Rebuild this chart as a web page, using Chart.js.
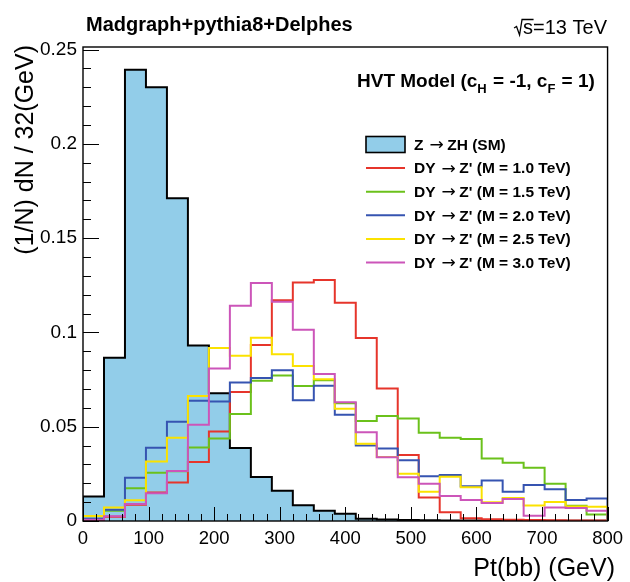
<!DOCTYPE html>
<html>
<head>
<meta charset="utf-8">
<script src="https://cdn.jsdelivr.net/npm/chart.js@4/dist/chart.umd.min.js"></script>
<style>
html,body{margin:0;padding:0;background:#fff;}
#wrap{width:630px;height:582px;position:relative;}
</style>
</head>
<body>
<div id="wrap"><canvas id="c" width="630" height="582"></canvas></div>
<script>
// ---- data (bin width 32 GeV, 25 bins from 0 to 800 GeV) ----
const binWidth = 32;
const binLow = [0,32,64,96,128,160,192,224,256,288,320,352,384,416,448,480,512,544,576,608,640,672,704,736,768];

const smZH  = [0.0130,0.0866,0.2394,0.2300,0.1712,0.0931,0.0677,0.0387,0.0234,0.0161,0.0083,0.0055,0.0039,0.0012,0.0008,0.0005,0.0004,0.0003,0.0002,0.0002,0.0001,0.0001,0.0001,0.0001,0.0001];
const dyM10 = [0.0005,0.0022,0.0086,0.0151,0.0204,0.0313,0.0475,0.0684,0.0934,0.1171,0.1265,0.1278,0.1157,0.0970,0.0703,0.0350,0.0125,0.0047,0.0014,0.0009,0.0006,0.0005,0.0004,0.0003,0.0003];
const dyM15 = [0.0012,0.0055,0.0174,0.0256,0.0264,0.0390,0.0438,0.0567,0.0744,0.0772,0.0716,0.0746,0.0624,0.0530,0.0557,0.0544,0.0468,0.0442,0.0435,0.0332,0.0309,0.0283,0.0198,0.0081,0.0035];
const dyM20 = [0.0012,0.0060,0.0230,0.0389,0.0526,0.0638,0.0634,0.0734,0.0758,0.0800,0.0640,0.0717,0.0564,0.0400,0.0385,0.0322,0.0237,0.0244,0.0184,0.0215,0.0155,0.0191,0.0168,0.0111,0.0119];
const dyM25 = [0.0027,0.0072,0.0110,0.0315,0.0442,0.0663,0.0917,0.0877,0.0972,0.0884,0.0822,0.0752,0.0596,0.0410,0.0340,0.0251,0.0155,0.0235,0.0179,0.0100,0.0122,0.0082,0.0101,0.0077,0.0076];
const dyM30 = [0.0007,0.0025,0.0090,0.0147,0.0265,0.0511,0.0809,0.1141,0.1262,0.1163,0.1014,0.0780,0.0630,0.0471,0.0338,0.0232,0.0198,0.0133,0.0111,0.0095,0.0117,0.0028,0.0071,0.0069,0.0054];

// legend entries: [before arrow, after arrow]
const seriesNamesPre  = ["Z", "DY", "DY", "DY", "DY", "DY"];
const seriesNamesPost = ["ZH (SM)", "Z' (M = 1.0 TeV)", "Z' (M = 1.5 TeV)", "Z' (M = 2.0 TeV)", "Z' (M = 2.5 TeV)", "Z' (M = 3.0 TeV)"];
const ARROW = "\u2192";

const xTickValues = [0,100,200,300,400,500,600,700,800];
const yTickValues = [0,0.05,0.1,0.15,0.2,0.25];
const yTickLabels = ['0','0.05','0.1','0.15','0.2','0.25'];

// ---- styling ----
const FONT = "'Liberation Sans', Arial, Helvetica, sans-serif";
const SM_FILL = '#92cde9';
const COLORS = ['#000000', '#e6352b', '#6bc11b', '#3654b1', '#fbe200', '#cc55b9'];

function histPoints(values) {
  const pts = [{x: binLow[0], y: 0}];
  binLow.forEach((x, i) => pts.push({x: x, y: values[i]}));
  pts.push({x: binLow[binLow.length - 1] + binWidth, y: 0});
  return pts;
}

const allSeries = [smZH, dyM10, dyM15, dyM20, dyM25, dyM30];
const datasets = allSeries.map((vals, k) => ({
  label: seriesNamesPre[k] + ' ' + ARROW + ' ' + seriesNamesPost[k],
  data: histPoints(vals),
  stepped: 'before',
  borderColor: COLORS[k],
  borderWidth: 2,
  backgroundColor: k === 0 ? SM_FILL : 'transparent',
  fill: k === 0 ? 'origin' : false,
  pointRadius: 0,
  tension: 0,
  order: 6 - k
}));

const decor = {
  id: 'rootDecor',
  afterDatasetsDraw(chart) {
    const ctx = chart.ctx, a = chart.chartArea;
    const xs = chart.scales.x, ys = chart.scales.y;
    ctx.save();
    ctx.strokeStyle = '#000';
    ctx.lineWidth = 1;
    // x ticks (inside, from bottom)
    for (let i = 0; i <= 40; i++) {
      const v = i * 20;
      const px = Math.round(xs.getPixelForValue(v)) + 0.5;
      const len = (v % 100 === 0) ? 14 : 7;
      ctx.beginPath(); ctx.moveTo(px, a.bottom); ctx.lineTo(px, a.bottom - len); ctx.stroke();
    }
    // y ticks (inside, from left)
    for (let i = 0; i <= 25; i++) {
      const v = i * 0.01;
      const py = Math.round(ys.getPixelForValue(v)) + 0.5;
      const len = (i % 5 === 0) ? 16 : 8;
      ctx.beginPath(); ctx.moveTo(a.left, py); ctx.lineTo(a.left + len, py); ctx.stroke();
    }
    // frame
    ctx.lineWidth = 1.4;
    ctx.strokeRect(a.left, a.top, a.right - a.left, a.bottom - a.top);
    ctx.restore();
  },
  afterDraw(chart) {
    const ctx = chart.ctx;
    ctx.save();
    ctx.fillStyle = '#000';
    ctx.textBaseline = 'alphabetic';

    // top-left title
    ctx.font = 'bold 20px ' + FONT;
    ctx.textAlign = 'left';
    ctx.fillText('Madgraph+pythia8+Delphes', 86, 31);

    // sqrt(s) = 13 TeV (right aligned)
    ctx.font = '20px ' + FONT;
    const rest = 's=13 TeV';
    const wRest = ctx.measureText(rest).width;
    const xEnd = 607;
    const xs0 = xEnd - wRest;
    ctx.fillText(rest, xs0, 34);
    ctx.lineWidth = 1.3;
    ctx.strokeStyle = '#000';
    ctx.beginPath();
    ctx.moveTo(xs0 - 9, 28);
    ctx.lineTo(xs0 - 6.5, 26.5);
    ctx.lineTo(xs0 - 3.5, 35);
    ctx.lineTo(xs0 - 1, 19.5);
    ctx.lineTo(xs0 + ctx.measureText('s').width + 0.5, 19.5);
    ctx.stroke();

    // HVT model text with subscripts
    let x = 357;
    const yb = 87;
    const parts = [
      ['HVT Model (c', false], ['H', true], [' = -1, c', false], ['F', true], [' = 1)', false]
    ];
    parts.forEach(([t, sub]) => {
      ctx.font = sub ? 'bold 13px ' + FONT : 'bold 19px ' + FONT;
      ctx.fillText(t, x, sub ? yb + 6 : yb);
      x += ctx.measureText(t).width + (sub ? 1 : 0);
    });

    // legend
    const lx0 = 366, lx1 = 405, tx = 414;
    const rowY0 = 144.5, rowStep = 23.6;
    ctx.textBaseline = 'middle';
    seriesNamesPre.forEach((pre, k) => {
      const cy = rowY0 + k * rowStep;
      if (k === 0) {
        ctx.fillStyle = SM_FILL;
        ctx.fillRect(lx0, cy - 8, lx1 - lx0, 16);
        ctx.strokeStyle = '#000';
        ctx.lineWidth = 1.6;
        ctx.strokeRect(lx0, cy - 8, lx1 - lx0, 16);
      } else {
        ctx.strokeStyle = COLORS[k];
        ctx.lineWidth = 2;
        ctx.beginPath(); ctx.moveTo(lx0, cy); ctx.lineTo(lx1, cy); ctx.stroke();
      }
      ctx.fillStyle = '#000';
      ctx.font = 'bold 15.5px ' + FONT;
      ctx.fillText(pre, tx, cy + 1);
      const ax = tx + ctx.measureText(pre).width + 6;
      ctx.font = "17px 'DejaVu Sans', sans-serif";
      ctx.fillText(ARROW, ax, cy + 1);
      const px = ax + ctx.measureText(ARROW).width + 3.5;
      ctx.font = 'bold 15.5px ' + FONT;
      ctx.fillText(seriesNamesPost[k], px, cy + 1);
    });

    // axis titles
    ctx.textBaseline = 'alphabetic';
    ctx.font = '25px ' + FONT;
    ctx.textAlign = 'right';
    ctx.fillText('Pt(bb) (GeV)', 615, 576);

    ctx.save();
    ctx.translate(33, 45);
    ctx.rotate(-Math.PI / 2);
    ctx.textAlign = 'right';
    ctx.fillText('(1/N) dN / 32(GeV)', 0, 0);
    ctx.restore();

    ctx.restore();
  }
};

Chart.defaults.font.family = FONT;
Chart.defaults.color = '#000';

new Chart(document.getElementById('c'), {
  type: 'line',
  data: { datasets: datasets },
  options: {
    responsive: false,
    devicePixelRatio: 1,
    animation: false,
    layout: { padding: { left: 0, right: 16, top: 47, bottom: 0 } },
    plugins: { legend: { display: false }, tooltip: { enabled: false }, title: { display: false } },
    scales: {
      x: {
        type: 'linear', min: 0, max: 800,
        afterBuildTicks: s => { s.ticks = xTickValues.map(v => ({ value: v })); },
        afterFit: s => { s.height = 61; },
        grid: { display: false, drawTicks: false },
        border: { display: false },
        ticks: { font: { size: 18.5 }, color: '#000', padding: 7, maxRotation: 0, autoSkip: false,
                 callback: v => String(v) }
      },
      y: {
        type: 'linear', min: 0, max: 0.2514,
        afterBuildTicks: s => { s.ticks = yTickValues.map(v => ({ value: v })); },
        afterFit: s => { s.width = 83; },
        grid: { display: false, drawTicks: false },
        border: { display: false },
        ticks: { font: { size: 19 }, color: '#000', padding: 6, autoSkip: false,
                 callback: (v, i) => yTickLabels[i] }
      }
    }
  },
  plugins: [decor]
});
</script>
</body>
</html>
